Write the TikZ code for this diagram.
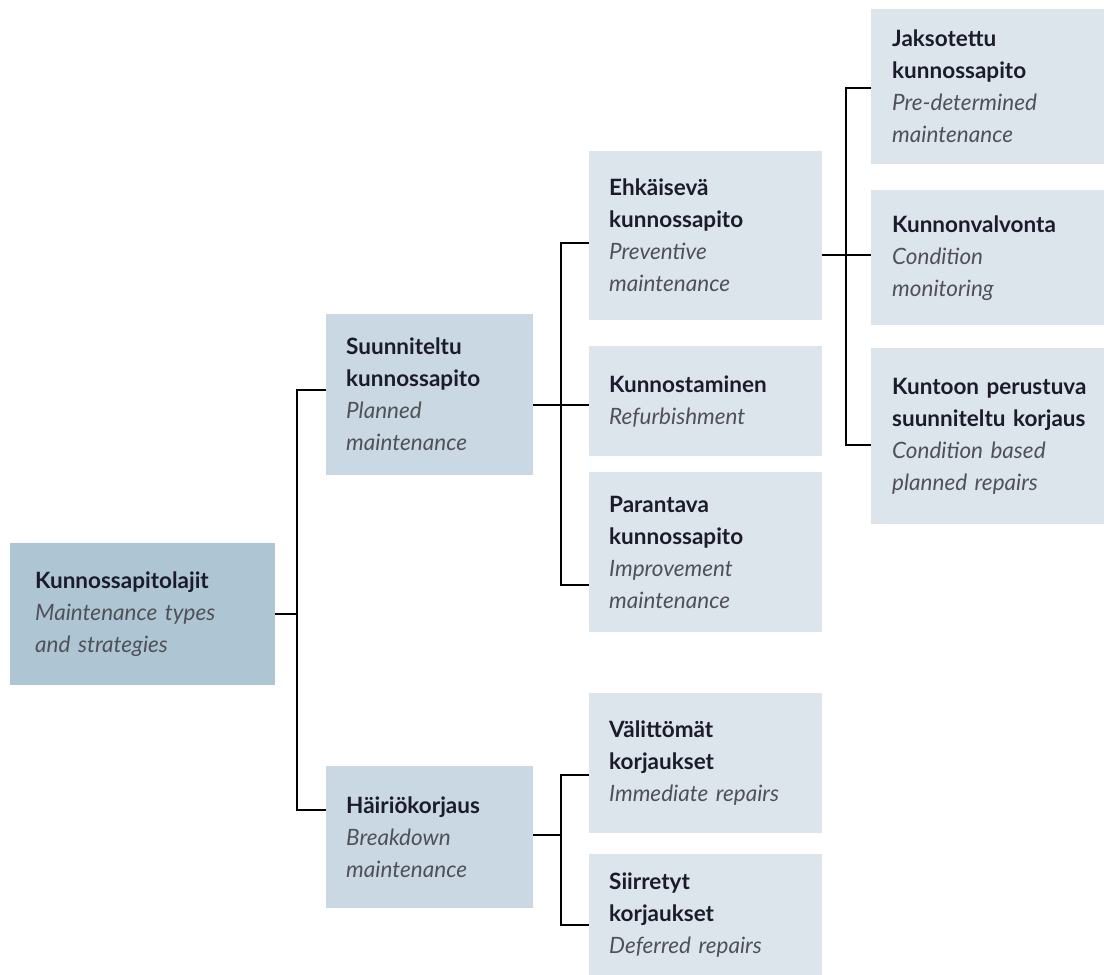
\documentclass[tikz,border=0pt]{standalone}
\usepackage{fontspec}
\setmainfont{Lato}
\definecolor{rootc}{HTML}{AEC5D3}
\definecolor{lvlone}{HTML}{C9D8E2}
\definecolor{lvltwo}{HTML}{DDE5EC}
\definecolor{titlec}{HTML}{1B1B2B}
\definecolor{subc}{HTML}{505158}
\newcommand{\ttl}[1]{\mbox{\bfseries\color{titlec}#1}}
\newcommand{\sbt}[1]{\mbox{\itshape\color{subc}#1}}
\begin{document}
\begin{tikzpicture}[x=1pt,y=-1pt,
  box/.style={rectangle, anchor=north west, inner ysep=0pt, inner xsep=20pt,
    align=left, font=\fontsize{22.5}{32}\selectfont},
  conn/.style={draw=black, line width=2pt}]
\useasboundingbox (0,0) rectangle (1104,975);
% level 0
\node[box, fill=rootc, inner xsep=25pt, text width=215pt, minimum height=142pt] (root) at (10,543)
  {\ttl{Kunnossapitolajit}\\\sbt{Maintenance types}\\\sbt{and strategies}};
% level 1
\node[box, fill=lvlone, text width=167pt, minimum height=161pt] (suun) at (326,314)
  {\ttl{Suunniteltu}\\\ttl{kunnossapito}\\\sbt{Planned}\\\sbt{maintenance}};
\node[box, fill=lvlone, text width=167pt, minimum height=142pt] (hair) at (326,766)
  {\ttl{Häiriökorjaus}\\\sbt{Breakdown}\\\sbt{maintenance}};
% level 2
\node[box, fill=lvltwo, text width=193pt, minimum height=169pt] (ehk) at (589,151)
  {\ttl{Ehkäisevä}\\\ttl{kunnossapito}\\\sbt{Preventive}\\\sbt{maintenance}};
\node[box, fill=lvltwo, text width=193pt, minimum height=110pt] (kunnost) at (589,346)
  {\ttl{Kunnostaminen}\\\sbt{Refurbishment}};
\node[box, fill=lvltwo, text width=193pt, minimum height=160pt] (par) at (589,472)
  {\ttl{Parantava}\\\ttl{kunnossapito}\\\sbt{Improvement}\\\sbt{maintenance}};
\node[box, fill=lvltwo, text width=193pt, minimum height=140pt] (val) at (589,693)
  {\ttl{Välittömät}\\\ttl{korjaukset}\\\sbt{Immediate repairs}};
\node[box, fill=lvltwo, text width=193pt, minimum height=121pt] (siir) at (589,854)
  {\ttl{Siirretyt}\\\ttl{korjaukset}\\\sbt{Deferred repairs}};
% level 3
\node[box, fill=lvltwo, inner xsep=21pt, text width=191pt, minimum height=155pt] (jak) at (871,9)
  {\ttl{Jaksotettu}\\\ttl{kunnossapito}\\\sbt{Pre-determined}\\\sbt{maintenance}};
\node[box, fill=lvltwo, inner xsep=21pt, text width=191pt, minimum height=135pt] (kval) at (871,190)
  {\ttl{Kunnonvalvonta}\\\sbt{Condition}\\\sbt{monitoring}};
\node[box, fill=lvltwo, inner xsep=21pt, text width=191pt, minimum height=176pt] (kunt) at (871,348)
  {\ttl{Kuntoon perustuva}\\\ttl{suunniteltu korjaus}\\\sbt{Condition based}\\\sbt{planned repairs}};
% junction points
\coordinate (t1) at ([xshift=22pt]root.east);
\coordinate (t2) at ([xshift=28pt,yshift=-10.5pt]suun.east);
\coordinate (t3) at ([xshift=24pt,yshift=-19.5pt]ehk.east);
\coordinate (t4) at ([xshift=28pt,yshift=2pt]hair.east);
% connectors
\draw[conn] (root.east) -- (t1);
\draw[conn] ([yshift=4.5pt]suun.west) -| (t1) |- ([yshift=27pt]hair.west);
\draw[conn] ([yshift=-10.5pt]suun.east) -- (t2) -- (t2 -| kunnost.west);
\draw[conn] ([yshift=-7.5pt]ehk.west) -| (t2) |- ([yshift=-33pt]par.west);
\draw[conn] ([yshift=-19.5pt]ehk.east) -- (t3) -- (t3 -| kval.west);
\draw[conn] ([yshift=-1.5pt]jak.west) -| (t3) |- ([yshift=-9pt]kunt.west);
\draw[conn] ([yshift=2pt]hair.east) -- (t4);
\draw[conn] ([yshift=-12pt]val.west) -| (t4) |- ([yshift=-10.5pt]siir.west);
\end{tikzpicture}
\end{document}
